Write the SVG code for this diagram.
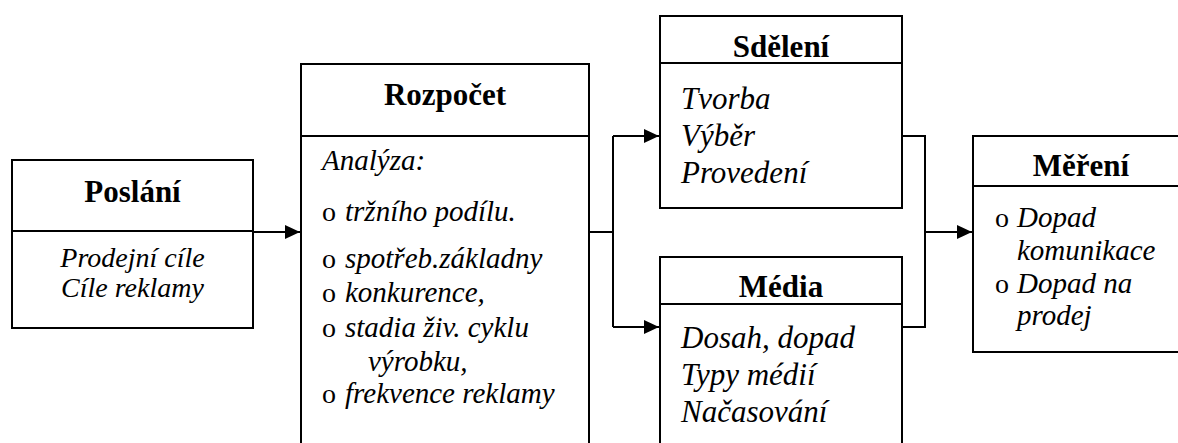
<svg xmlns="http://www.w3.org/2000/svg" width="1178" height="443" viewBox="0 0 1178 443">
  <defs>
    <marker id="arrow" markerUnits="userSpaceOnUse" markerWidth="16" markerHeight="14" refX="15" refY="7" orient="auto">
      <path d="M0,0 L15,7 L0,14 Z" fill="#000000"/>
    </marker>
  </defs>
  <rect width="1178" height="443" fill="#ffffff"/>

  <!-- connectors -->
  <g id="connectors" fill="none" stroke="#000000" stroke-width="2">
    <path d="M253,232 H300" marker-end="url(#arrow)"/>
    <path d="M589,232 H613"/>
    <path d="M613,136 V327"/>
    <path d="M613,136 H659" marker-end="url(#arrow)"/>
    <path d="M613,327 H659" marker-end="url(#arrow)"/>
    <path d="M902,136 H925 V327 H902"/>
    <path d="M925,232 H972" marker-end="url(#arrow)"/>
  </g>

  <!-- Poslání -->
  <g id="poslani">
    <rect x="12" y="160" width="241" height="168" fill="#ffffff" stroke="#000000" stroke-width="2"/>
    <line x1="12" y1="231" x2="253" y2="231" stroke="#000000" stroke-width="2"/>
    <text font-family="Liberation Serif" font-weight="bold" font-size="31" text-anchor="middle" x="132.5" y="202">Poslání</text>
    <text font-family="Liberation Serif" font-style="italic" font-size="28" text-anchor="middle" x="132.5" y="267">Prodejní cíle</text>
    <text font-family="Liberation Serif" font-style="italic" font-size="28" text-anchor="middle" x="132.5" y="297">Cíle reklamy</text>
  </g>

  <!-- Rozpočet -->
  <g id="rozpocet">
    <rect x="301" y="64" width="288" height="400" fill="#ffffff" stroke="#000000" stroke-width="2"/>
    <line x1="301" y1="136" x2="589" y2="136" stroke="#000000" stroke-width="2"/>
    <text font-family="Liberation Serif" font-weight="bold" font-size="31" text-anchor="middle" x="445" y="105">Rozpočet</text>
    <text font-family="Liberation Serif" font-style="italic" font-size="29" x="322" y="170">Analýza:</text>
    <text font-family="Liberation Serif" font-size="28" x="322" y="221">o</text>
    <text font-family="Liberation Serif" font-style="italic" font-size="29" x="345" y="221">tržního podílu.</text>
    <text font-family="Liberation Serif" font-size="28" x="322" y="268">o</text>
    <text font-family="Liberation Serif" font-style="italic" font-size="29" x="345" y="268">spotřeb.základny</text>
    <text font-family="Liberation Serif" font-size="28" x="322" y="302">o</text>
    <text font-family="Liberation Serif" font-style="italic" font-size="29" x="345" y="302">konkurence,</text>
    <text font-family="Liberation Serif" font-size="28" x="322" y="337">o</text>
    <text font-family="Liberation Serif" font-style="italic" font-size="29" x="345" y="337">stadia živ. cyklu</text>
    <text font-family="Liberation Serif" font-style="italic" font-size="29" x="368" y="371">výrobku,</text>
    <text font-family="Liberation Serif" font-size="28" x="322" y="403">o</text>
    <text font-family="Liberation Serif" font-style="italic" font-size="29" x="345" y="403">frekvence reklamy</text>
  </g>

  <!-- Sdělení -->
  <g id="sdeleni">
    <rect x="660" y="16" width="242" height="192" fill="#ffffff" stroke="#000000" stroke-width="2"/>
    <line x1="660" y1="63" x2="902" y2="63" stroke="#000000" stroke-width="2"/>
    <text font-family="Liberation Serif" font-weight="bold" font-size="31" text-anchor="middle" x="781" y="57">Sdělení</text>
    <text font-family="Liberation Serif" font-style="italic" font-size="31" x="681" y="109">Tvorba</text>
    <text font-family="Liberation Serif" font-style="italic" font-size="31" x="681" y="146">Výběr</text>
    <text font-family="Liberation Serif" font-style="italic" font-size="31" x="681" y="183">Provedení</text>
  </g>

  <!-- Média -->
  <g id="media">
    <rect x="660" y="257" width="242" height="210" fill="#ffffff" stroke="#000000" stroke-width="2"/>
    <line x1="660" y1="304" x2="902" y2="304" stroke="#000000" stroke-width="2"/>
    <text font-family="Liberation Serif" font-weight="bold" font-size="31" text-anchor="middle" x="781" y="297">Média</text>
    <text font-family="Liberation Serif" font-style="italic" font-size="31" x="681" y="348">Dosah, dopad</text>
    <text font-family="Liberation Serif" font-style="italic" font-size="31" x="681" y="385">Typy médií</text>
    <text font-family="Liberation Serif" font-style="italic" font-size="31" x="681" y="422">Načasování</text>
  </g>

  <!-- Měření -->
  <g id="mereni">
    <rect x="973" y="136" width="216" height="216" fill="#ffffff" stroke="#000000" stroke-width="2"/>
    <line x1="973" y1="186" x2="1189" y2="186" stroke="#000000" stroke-width="2"/>
    <text font-family="Liberation Serif" font-weight="bold" font-size="31" text-anchor="middle" x="1081" y="176">Měření</text>
    <text font-family="Liberation Serif" font-size="28" x="995" y="227">o</text>
    <text font-family="Liberation Serif" font-style="italic" font-size="29" x="1017" y="227">Dopad</text>
    <text font-family="Liberation Serif" font-style="italic" font-size="29" x="1017" y="260">komunikace</text>
    <text font-family="Liberation Serif" font-size="28" x="995" y="293">o</text>
    <text font-family="Liberation Serif" font-style="italic" font-size="29" x="1017" y="293">Dopad na</text>
    <text font-family="Liberation Serif" font-style="italic" font-size="29" x="1017" y="325">prodej</text>
  </g>
</svg>
